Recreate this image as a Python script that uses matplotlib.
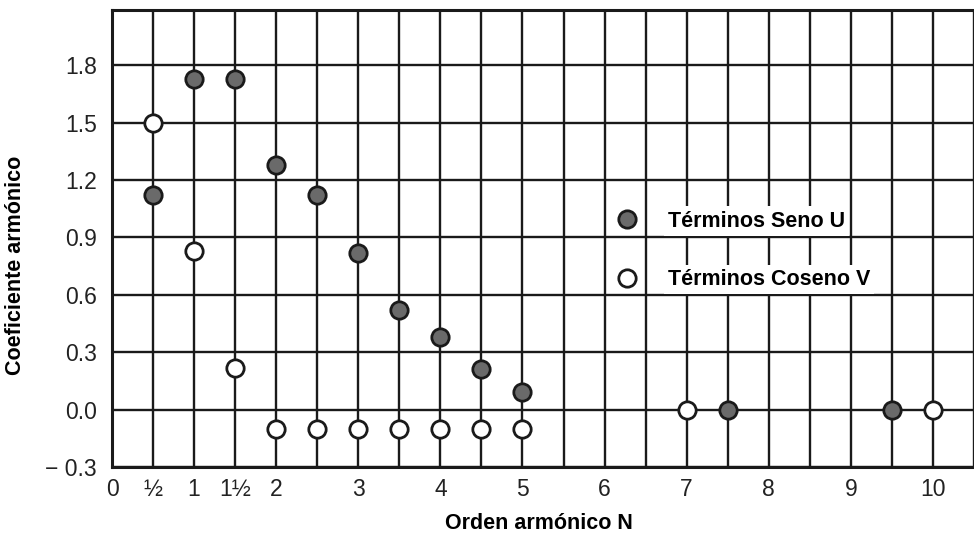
import matplotlib.pyplot as plt
import numpy as np

plt.rcParams['font.family'] = ['Liberation Sans', 'DejaVu Sans']

# sine terms U (filled markers)
seno_n = [0.5, 1, 1.5, 2, 2.5, 3, 3.5, 4, 4.5, 5, 7.5, 9.5]
seno_u = [1.12, 1.73, 1.73, 1.28, 1.12, 0.82, 0.52, 0.38, 0.21, 0.09, 0.0, 0.0]

# cosine terms V (open markers)
coseno_n = [0.5, 1, 1.5, 2, 2.5, 3, 3.5, 4, 4.5, 5, 7, 10]
coseno_v = [1.5, 0.83, 0.22, -0.1, -0.1, -0.1, -0.1, -0.1, -0.1, -0.1, 0.0, 0.0]

x_ticks = np.arange(0, 10.51, 0.5)
x_labels = ['0', '½', '1', '1½', '2', '', '3', '', '4', '', '5', '', '6', '', '7', '', '8', '', '9', '', '10', '']
y_ticks = [-0.3, 0.0, 0.3, 0.6, 0.9, 1.2, 1.5, 1.8]
y_labels = ['− 0.3', '0.0', '0.3', '0.6', '0.9', '1.2', '1.5', '1.8']

fig = plt.figure(figsize=(9.74, 5.45), dpi=100)
ax = fig.add_axes([0.115, 0.143, 0.885, 0.839])

ax.plot(seno_n, seno_u, 'o', ms=12.5, mfc='#6a6a6a', mec='#1a1a1a', mew=2,
        ls='none', label='Términos Seno U', zorder=5, clip_on=False)
ax.plot(coseno_n, coseno_v, 'o', ms=12.5, mfc='white', mec='#1a1a1a', mew=2,
        ls='none', label='Términos Coseno V', zorder=5, clip_on=False)

ax.set_xlim(0, 10.44)
ax.set_ylim(-0.3, 2.09)
ax.set_xticks(x_ticks)
ax.set_xticklabels(x_labels)
ax.set_yticks(y_ticks)
ax.set_yticklabels(y_labels)
ax.tick_params(length=0, labelsize=16.5, colors='#222222')
ax.tick_params(axis='y', pad=11)
ax.tick_params(axis='x', pad=8)
ax.grid(True, color='#1a1a1a', lw=1.7)
ax.set_axisbelow(True)

for side in ['left', 'bottom', 'top']:
    ax.spines[side].set_linewidth(2.2)
    ax.spines[side].set_color('#1a1a1a')
ax.spines['right'].set_visible(False)

ax.set_xlabel('Orden armónico N', fontsize=15.5, fontweight='bold')
ax.set_ylabel('Coeficiente armónico', fontsize=15.5, fontweight='bold')
ax.xaxis.set_label_coords(0.495, -0.10)
ax.yaxis.set_label_coords(-0.1, 0.44)

leg = ax.legend(loc='upper left', bbox_to_anchor=(0.5597, 0.5845), frameon=False,
                fontsize=15.5, handletextpad=0.9, labelspacing=1.75, borderpad=0)
for t in leg.get_texts():
    t.set_fontweight('bold')
    t.set_bbox(dict(facecolor='white', edgecolor='none', pad=3))

fig.savefig('out.png', dpi=100)
